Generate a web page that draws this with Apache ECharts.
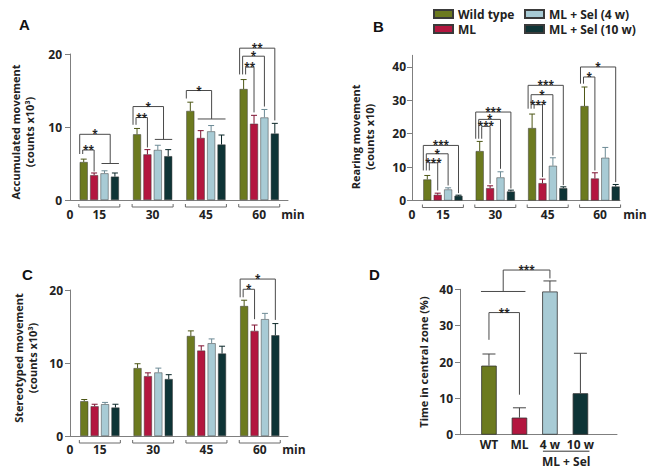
<!DOCTYPE html>
<html><head><meta charset="utf-8">
<script src="https://cdn.jsdelivr.net/npm/echarts@6/dist/echarts.min.js"></script>
<style>html,body{margin:0;padding:0;background:#fff}#c{width:654px;height:475px}</style>
</head><body><div id="c"></div>
<script>
// ---------- data ----------
const groups = ['15', '30', '45', '60'];
const seriesNames = ['Wild type', 'ML', 'ML + Sel (4 w)', 'ML + Sel (10 w)'];

// A: accumulated movement (counts x10^3)
const accWT    = [5.2, 9.0, 12.2, 15.2];
const accML    = [3.4, 6.25, 8.5, 10.45];
const accSel4  = [3.65, 6.85, 9.4, 11.3];
const accSel10 = [3.2, 6.0, 7.6, 9.1];
const accWTErr    = [0.4, 0.8, 1.2, 1.3];
const accMLErr    = [0.3, 0.65, 1.0, 1.15];
const accSel4Err  = [0.35, 0.65, 0.8, 1.1];
const accSel10Err = [0.5, 0.9, 1.3, 1.4];
// pooled comparison lines: [group, first bar, last bar, level]
const accPooled = [[0, 2, 3, 5.0], [1, 2, 3, 8.3], [2, 1, 3, 11.1]];
// significance: [group, target bar (-1 = pooled line), level, label, target foot]
const accSig = [
  [0, -1, 9.0, '*', 5.0], [0, 1, 6.85, '**', 3.9],
  [1, -1, 12.8, '*', 8.3], [1, 1, 11.3, '**', 7.2],
  [2, -1, 15.0, '*', 11.1],
  [3, 3, 20.8, '**', 10.9], [3, 2, 19.7, '*', 12.8], [3, 1, 18.2, '**', 12.0]
];
const accSigFoot = [6.3, 10.3, 13.9, 17.2];

// B: rearing movement (counts x10)
const rearWT    = [6.3, 14.8, 21.7, 28.3];
const rearML    = [1.7, 3.7, 5.2, 6.6];
const rearSel4  = [3.3, 6.9, 10.4, 12.8];
const rearSel10 = [1.4, 2.7, 3.7, 4.2];
const rearWTErr    = [1.2, 2.9, 4.2, 5.7];
const rearMLErr    = [0.5, 0.7, 1.2, 1.7];
const rearSel4Err  = [0.5, 1.7, 2.4, 3.1];
const rearSel10Err = [0.2, 0.4, 0.4, 0.6];
const rearPooled = [];
const rearSig = [
  [0, 3, 16.5, '***', 2.2], [0, 2, 14.0, '*', 4.5], [0, 1, 11.3, '***', 3.0],
  [1, 3, 26.5, '***', 3.6], [1, 2, 24.3, '*', 9.5], [1, 1, 22.2, '***', 5.0],
  [2, 3, 34.5, '***', 4.6], [2, 2, 31.7, '*', 13.5], [2, 1, 28.7, '***', 7.0],
  [3, 3, 40.0, '*', 5.5], [3, 1, 37.0, '*', 9.0]
];
const rearSigFoot = [9.0, 18.5, 27.5, 35.0];

// C: stereotyped movement (counts x10^3)
const stereoWT    = [4.76, 9.3, 13.7, 17.8];
const stereoML    = [4.07, 8.2, 11.7, 14.4];
const stereoSel4  = [4.35, 8.7, 12.7, 16.0];
const stereoSel10 = [3.9, 7.8, 11.3, 13.8];
const stereoWTErr    = [0.24, 0.6, 0.7, 0.8];
const stereoMLErr    = [0.28, 0.45, 0.65, 0.8];
const stereoSel4Err  = [0.25, 0.6, 0.6, 0.8];
const stereoSel10Err = [0.45, 0.6, 1.0, 1.6];
const stereoPooled = [];
const stereoSig = [[3, 3, 21.5, '*', 15.9], [3, 1, 20.1, '*', 16.0]];
const stereoSigFoot = [0, 0, 0, 19.0];

// D: time in central zone (%)
const centralCats = ['WT', 'ML', '4 w', '10 w'];
const centralTime = [19.0, 4.7, 39.4, 11.4];
const centralErr  = [3.2, 2.7, 2.9, 11.0];
const centralPooled = [0, 1, 39.4];
// [from (-1 = pooled), to, level, label, from foot, to foot]
const centralSig = [[0, 1, 33.6, '**', 26.1, 11.0], [-1, 2, 45.3, '***', 39.4, 43.0]];

const yTicksA = [0, 10, 20];
const yTicksB = [0, 10, 20, 30, 40];
const yTicksC = [0, 10, 20];
const yTicksD = [0, 10, 20, 30, 40];

// ---------- styles ----------
const colors = ['#6c7a1f', '#b3163f', '#a8cbd5', '#0e3436'];
const errColors = ['#4d5716', '#7e1030', '#6c8a95', '#0a2628'];
const FONT = '"Open Sans", "Noto Sans", sans-serif';
const axisGray = '#7f7f7f';
const BAR_W = 8, BAR_GAP = 0.3, PITCH = BAR_W * (1 + BAR_GAP);
const barOff = k => (k - 1.5) * PITCH;

const panels = [
  {vals: [accWT, accML, accSel4, accSel10], errs: [accWTErr, accMLErr, accSel4Err, accSel10Err],
   pooled: accPooled, sig: accSig, foot: accSigFoot},
  {vals: [rearWT, rearML, rearSel4, rearSel10], errs: [rearWTErr, rearMLErr, rearSel4Err, rearSel10Err],
   pooled: rearPooled, sig: rearSig, foot: rearSigFoot},
  {vals: [stereoWT, stereoML, stereoSel4, stereoSel10], errs: [stereoWTErr, stereoMLErr, stereoSel4Err, stereoSel10Err],
   pooled: stereoPooled, sig: stereoSig, foot: stereoSigFoot}
];

const grids = [
  {left: 70, top: 54, width: 218, height: 146},
  {left: 412, top: 55.3, width: 208, height: 145.2},
  {left: 70, top: 290, width: 218, height: 146},
  {left: 460, top: 289.3, width: 157, height: 145.4}
];
const xRange = [[-0.55, 3.54], [-0.59, 3.38], [-0.56, 3.53], [-0.95, 4.2]];
const minGap = [5, 15, 6];
const xLabelMargin = [8, 8, 7, 4];

const starFont = 'bold 10px ' + FONT;
function seg(x1, y1, x2, y2, color) {
  return {type: 'line', shape: {x1: x1, y1: y1, x2: x2, y2: y2}, style: {stroke: color || '#4a4a4a', lineWidth: 1, fill: 'none'}};
}
function bracket(xL, yLF, y, xR, yRF, label) {
  return [
    seg(xL, yLF, xL, y), seg(xL, y, xR, y), seg(xR, y, xR, yRF),
    {type: 'text', style: {text: label, x: (xL + xR) / 2, y: y - 1, align: 'center', verticalAlign: 'middle', lineHeight: 8, font: starFont, fill: '#222'}}
  ];
}
function pooledSpan(pooled, g) {
  const p = pooled.find(q => q[0] === g);
  return [barOff(p[1]) - 3, barOff(p[2]) + 4, p[3]];
}

const xAxes = [], yAxes = [], series = [];
const yNames = ['Accumulated movement\n(counts x10³)', 'Rearing movement\n(counts x10)', 'Stereotyped movement\n(counts x10³)', 'Time in central zone (%)'];
const yNameGap = [34, 36, 31, 30];
const yNamePad = [[0, 10, 0, 0], [0, 18, 0, 0], [0, 0, 0, 10], [0, 0, 0, 0]];
const yMax = [20, 43.5, 20, 40];
const yTicks = [yTicksA, yTicksB, yTicksC, yTicksD];
const yLabelMargin = [8, 6, 7, 7];

for (let p = 0; p < 4; p++) {
  const isD = p === 3;
  xAxes.push({
    gridIndex: p, type: 'value', min: xRange[p][0], max: xRange[p][1],
    axisLine: {onZero: false, lineStyle: {color: axisGray, width: 1}},
    axisTick: {show: false}, splitLine: {show: false}, minorTick: {show: false}, minorSplitLine: {show: false},
    axisLabel: {
      customValues: isD ? [0, 1, 2, 3] : [xRange[p][0], 0, 1, 2, 3],
      formatter: v => isD ? centralCats[Math.round(v)] : (v < -0.1 ? '0' : groups[Math.round(v)]),
      fontFamily: FONT, fontWeight: 'bold', fontSize: 12, color: '#222', margin: xLabelMargin[p]
    },
    name: isD ? '' : 'min', nameLocation: 'end', nameGap: isD ? 0 : minGap[p],
    nameTextStyle: {fontFamily: FONT, fontWeight: 'bold', fontSize: 12, color: '#222', align: 'center', verticalAlign: 'top', padding: [xLabelMargin[p], 0, 0, 0]}
  });
  yAxes.push({
    gridIndex: p, type: 'value', min: 0, max: yMax[p],
    axisLine: {show: true, onZero: false, lineStyle: {color: axisGray, width: 1}},
    axisTick: {show: true, length: 5, customValues: yTicks[p], lineStyle: {color: axisGray}},
    axisLabel: {customValues: yTicks[p], fontFamily: FONT, fontWeight: 'bold', fontSize: 12, color: '#222', margin: yLabelMargin[p]},
    splitLine: {show: false},
    name: yNames[p], nameLocation: 'middle', nameRotate: 90, nameGap: yNameGap[p],
    nameTextStyle: {fontFamily: FONT, fontWeight: 'bold', fontSize: 11, color: '#222', lineHeight: 14, padding: yNamePad[p]}
  });
}

// panels A-C
panels.forEach((pd, p) => {
  pd.vals.forEach((arr, k) => {
    series.push({
      type: 'bar', name: seriesNames[k], xAxisIndex: p, yAxisIndex: p,
      barWidth: BAR_W, barGap: (BAR_GAP * 100) + '%',
      itemStyle: {color: colors[k], borderColor: '#3a3a3a', borderWidth: 0.5},
      data: arr.map((v, i) => [i, v]), z: 2
    });
  });
  // error bars
  const errData = [];
  pd.vals.forEach((arr, k) => arr.forEach((v, i) => errData.push([i, v, pd.errs[k][i], k])));
  series.push({
    type: 'custom', xAxisIndex: p, yAxisIndex: p, clip: false, silent: true, z: 3,
    data: errData,
    renderItem: (params, api) => {
      const g = api.value(0), v = api.value(1), e = api.value(2), k = api.value(3);
      const b = api.coord([g, v]), t = api.coord([g, v + e]);
      const x = b[0] + barOff(k);
      return {type: 'group', children: [seg(x, b[1], x, t[1], errColors[k]), seg(x - 3, t[1], x + 3, t[1], errColors[k])]};
    }
  });
  // group brackets under the axis
  series.push({
    type: 'custom', xAxisIndex: p, yAxisIndex: p, clip: false, silent: true,
    data: groups.map((g, i) => [i, 0]),
    renderItem: (params, api) => {
      const c = api.coord([api.value(0), 0]);
      const h = 20.5, col = '#6a6a6a';
      return {type: 'group', children: [
        seg(c[0] - h, c[1] + 4, c[0] - h, c[1] + 7, col), seg(c[0] - h, c[1] + 7, c[0] + h, c[1] + 7, col), seg(c[0] + h, c[1] + 7, c[0] + h, c[1] + 4, col)
      ]};
    }
  });
  // pooled lines
  if (pd.pooled.length) series.push({
    type: 'custom', xAxisIndex: p, yAxisIndex: p, clip: false, silent: true,
    data: pd.pooled.map(q => [q[0], q[3]]),
    renderItem: (params, api) => {
      const g = api.value(0);
      const sp = pooledSpan(pd.pooled, g);
      const c = api.coord([g, sp[2]]);
      return seg(c[0] + sp[0], c[1], c[0] + sp[1], c[1]);
    }
  });
  // significance brackets
  series.push({
    type: 'custom', xAxisIndex: p, yAxisIndex: p, clip: false, silent: true,
    data: pd.sig.map(s => [s[0], s[2]]),
    renderItem: (params, api) => {
      const idx = params.dataIndex;
      const s = pd.sig[idx];
      const g = s[0];
      const depth = pd.sig.slice(0, idx).filter(q => q[0] === g).length;
      const c = api.coord([g, s[2]]);
      const xL = c[0] + barOff(0) - 4 + 3 * depth;
      let xR;
      if (s[1] < 0) { const sp = pooledSpan(pd.pooled, g); xR = c[0] + (sp[0] + sp[1]) / 2; }
      else xR = c[0] + barOff(s[1]);
      const yLF = api.coord([g, pd.foot[g]])[1];
      const yRF = api.coord([g, s[4]])[1];
      return {type: 'group', children: bracket(xL, yLF, c[1], xR, yRF, s[3])};
    }
  });
});

// panel D
series.push({
  type: 'bar', name: 'Time in central zone', xAxisIndex: 3, yAxisIndex: 3, barWidth: 15.5,
  data: centralTime.map((v, i) => ({value: [i, v], itemStyle: {color: colors[i]}})),
  itemStyle: {borderColor: '#333', borderWidth: 0.8}, z: 2
});
series.push({
  type: 'custom', xAxisIndex: 3, yAxisIndex: 3, clip: false, silent: true, z: 3,
  data: centralTime.map((v, i) => [i, v, centralErr[i]]),
  renderItem: (params, api) => {
    const i = api.value(0), v = api.value(1), e = api.value(2);
    const b = api.coord([i, v]), t = api.coord([i, v + e]);
    return {type: 'group', children: [seg(b[0], b[1], b[0], t[1], '#444'), seg(b[0] - 6.5, t[1], b[0] + 6.5, t[1], '#444')]};
  }
});
series.push({
  type: 'custom', xAxisIndex: 3, yAxisIndex: 3, clip: false, silent: true,
  data: [[centralPooled[0], centralPooled[2]]],
  renderItem: (params, api) => {
    const a = api.coord([centralPooled[0], centralPooled[2]]);
    const b = api.coord([centralPooled[1], centralPooled[2]]);
    const s4 = api.coord([2, 0]), s10 = api.coord([3, 0]);
    return {type: 'group', children: [
      seg(a[0] - 8, a[1], b[0] + 6, b[1]),
      seg(s4[0] - 7, s4[1] + 16.5, s10[0] + 9, s10[1] + 16.5, '#333'),
      {type: 'text', style: {text: 'ML + Sel', x: (s4[0] + s10[0]) / 2 + 1, y: s4[1] + 27, align: 'center', verticalAlign: 'middle', font: 'bold 12px ' + FONT, fill: '#222'}}
    ]};
  }
});
series.push({
  type: 'custom', xAxisIndex: 3, yAxisIndex: 3, clip: false, silent: true,
  data: centralSig.map(s => [Math.max(s[0], 0), s[2]]),
  renderItem: (params, api) => {
    const s = centralSig[params.dataIndex];
    const c = api.coord([0, s[2]]);
    let xL;
    if (s[0] < 0) {
      const a = api.coord([centralPooled[0], 0])[0] - 8, b = api.coord([centralPooled[1], 0])[0] + 6;
      xL = (a + b) / 2;
    } else xL = api.coord([s[0], 0])[0];
    const xR = api.coord([s[1], 0])[0];
    const yLF = api.coord([0, s[4]])[1], yRF = api.coord([0, s[5]])[1];
    return {type: 'group', children: bracket(xL, yLF, c[1], xR, yRF, s[3])};
  }
});

const legendText = {fontFamily: FONT, fontWeight: 'bold', fontSize: 12, color: '#222', lineHeight: 12, padding: 0};
const legendBase = {orient: 'vertical', icon: 'rect', itemWidth: 19, itemHeight: 8, itemGap: 3, textStyle: legendText, selectedMode: false, padding: 0};
const option = {
  backgroundColor: '#fff',
  animation: false,
  grid: grids,
  xAxis: xAxes,
  yAxis: yAxes,
  legend: [
    Object.assign({data: [seriesNames[0], seriesNames[1]], left: 433, top: 8}, legendBase),
    Object.assign({data: [seriesNames[2], seriesNames[3]], left: 524, top: 8}, legendBase)
  ],
  graphic: [
    {type: 'text', left: 19, top: 17, style: {text: 'A', font: 'bold 15px "Liberation Sans", Arial', fill: '#111'}},
    {type: 'text', left: 373, top: 19, style: {text: 'B', font: 'bold 15px "Liberation Sans", Arial', fill: '#111'}},
    {type: 'text', left: 22, top: 267, style: {text: 'C', font: 'bold 15px "Liberation Sans", Arial', fill: '#111'}},
    {type: 'text', left: 369, top: 267, style: {text: 'D', font: 'bold 15px "Liberation Sans", Arial', fill: '#111'}}
  ],
  series: series
};
const chart = echarts.init(document.getElementById('c'), null, {renderer: 'svg'});
chart.setOption(option);
</script>
</body></html>
